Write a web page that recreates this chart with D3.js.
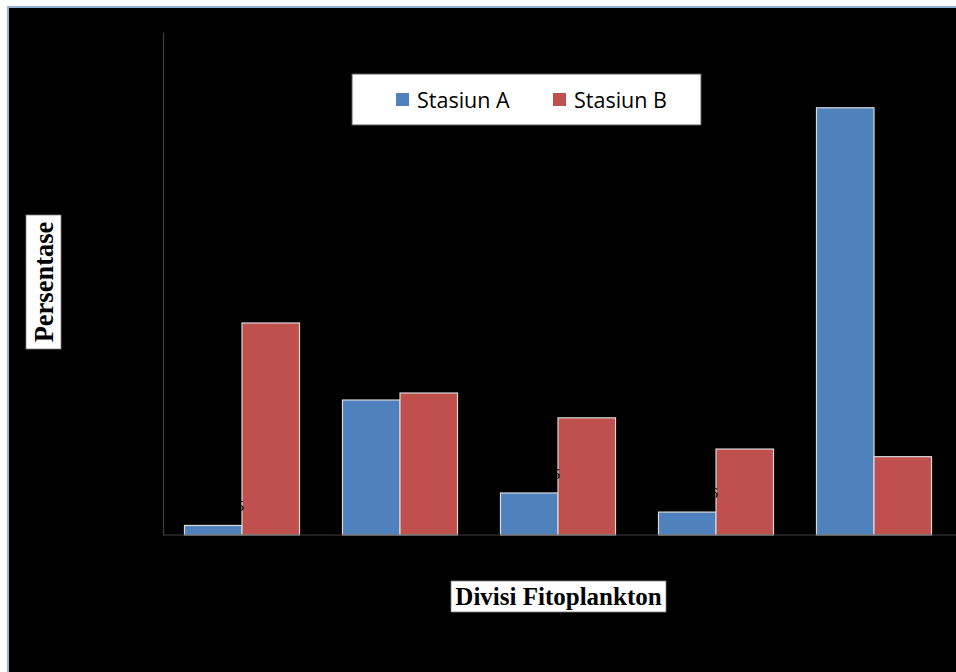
<!DOCTYPE html>
<html>
<head>
<meta charset="utf-8">
<script src="https://cdn.jsdelivr.net/npm/d3@7/dist/d3.min.js"></script>
<style>
  html, body { margin: 0; padding: 0; background: #fff; }
  svg { display: block; }
</style>
</head>
<body>
<svg id="chart" width="956" height="672"></svg>
<script>
// Percentage composition of phytoplankton divisions at two stations
const categories = ["Divisi 1", "Divisi 2", "Divisi 3", "Divisi 4", "Divisi 5"];
const seriesNames = ["Stasiun A", "Stasiun B"];
const stasiunA = [1.5, 21.2, 6.6, 3.6, 67.1];
const stasiunB = [33.3, 22.3, 18.4, 13.5, 12.3];
const seriesColors = ["#4f81bd", "#c0504d"];
const yLabel = "Persentase";
const xLabel = "Divisi Fitoplankton";

const svg = d3.select("#chart");
const W = 956, H = 672;

// frame: light blue border around a black chart area
svg.append("rect").attr("x", 7).attr("y", 6).attr("width", W - 7).attr("height", H - 6)
  .attr("fill", "#95b3d7");
svg.append("rect").attr("x", 9).attr("y", 8).attr("width", W - 9).attr("height", H - 8)
  .attr("fill", "#000");

const plot = { left: 163, right: 953, top: 32, bottom: 535 };

const x0 = d3.scaleBand().domain(categories).range([plot.left, plot.right]).paddingInner(0.272).paddingOuter(0.136);
const x1 = d3.scaleBand().domain(seriesNames).range([0, x0.bandwidth()]);
const y = d3.scaleLinear().domain([0, 79]).range([plot.bottom, plot.top]);

const rows = categories.map((c, i) => ({ cat: c, vals: [stasiunA[i], stasiunB[i]] }));

// bars
const g = svg.append("g");
const groups = g.selectAll("g.cat").data(rows).join("g")
  .attr("transform", d => `translate(${x0(d.cat)},0)`);
groups.selectAll("rect").data(d => d.vals.map((v, k) => ({ v, k })))
  .join("rect")
  .attr("x", d => x1(seriesNames[d.k]))
  .attr("y", d => y(d.v))
  .attr("width", x1.bandwidth())
  .attr("height", d => y(0) - y(d.v))
  .attr("fill", d => seriesColors[d.k])
  .attr("stroke", "#d9d9d9")
  .attr("stroke-width", 1.2);

// value labels for Stasiun A (dark text)
const fmt = v => d3.format(".1f")(v).replace(".", ",");
groups.append("text")
  .attr("x", x1.bandwidth() + 2)
  .attr("y", d => y(d.vals[0]) - 14)
  .attr("text-anchor", "end")
  .attr("font-family", "Liberation Serif, serif")
  .attr("font-size", 15)
  .attr("fill", "#000")
  .text(d => fmt(d.vals[0]));

// axes
const axisY = d3.axisLeft(y).tickValues([]).tickSizeOuter(0);
const ay = svg.append("g").attr("transform", `translate(${plot.left},0)`).call(axisY);
ay.select(".domain").attr("stroke", "#404040").attr("stroke-width", 1.2);
const axisX = d3.axisBottom(x0).tickValues([]).tickSizeOuter(0);
const ax = svg.append("g").attr("transform", `translate(0,${plot.bottom})`).call(axisX);
ax.select(".domain").attr("stroke", "#404040").attr("stroke-width", 1.2)
  .attr("d", `M${plot.left},0H${W}`);

// legend
const lg = svg.append("g");
lg.append("rect").attr("x", 352).attr("y", 74).attr("width", 349).attr("height", 51)
  .attr("fill", "#fff").attr("stroke", "#595959").attr("stroke-width", 1);
const legendX = [396, 553];
seriesNames.forEach((name, k) => {
  lg.append("rect").attr("x", legendX[k]).attr("y", 93).attr("width", 13).attr("height", 13)
    .attr("fill", seriesColors[k]);
  lg.append("text").attr("x", legendX[k] + 21).attr("y", 108)
    .attr("font-family", "Open Sans, Noto Sans, sans-serif").attr("font-size", 21.5)
    .attr("fill", "#000").text(name);
});

// axis titles in white boxes
const yl = svg.append("g");
yl.append("rect").attr("x", 26).attr("y", 215).attr("width", 35).attr("height", 134)
  .attr("fill", "#fff").attr("stroke", "#808080").attr("stroke-width", 0.8);
yl.append("text").attr("transform", "translate(53,282) rotate(-90)")
  .attr("text-anchor", "middle")
  .attr("font-family", "Liberation Serif, serif").attr("font-weight", "bold").attr("font-size", 26.5)
  .attr("fill", "#000").text(yLabel);

const xl = svg.append("g");
xl.append("rect").attr("x", 451).attr("y", 581).attr("width", 215).attr("height", 31)
  .attr("fill", "#fff").attr("stroke", "#808080").attr("stroke-width", 0.8);
xl.append("text").attr("x", 558.5).attr("y", 605)
  .attr("text-anchor", "middle")
  .attr("font-family", "Liberation Serif, serif").attr("font-weight", "bold").attr("font-size", 25)
  .attr("fill", "#000").text(xLabel);
</script>
</body>
</html>
